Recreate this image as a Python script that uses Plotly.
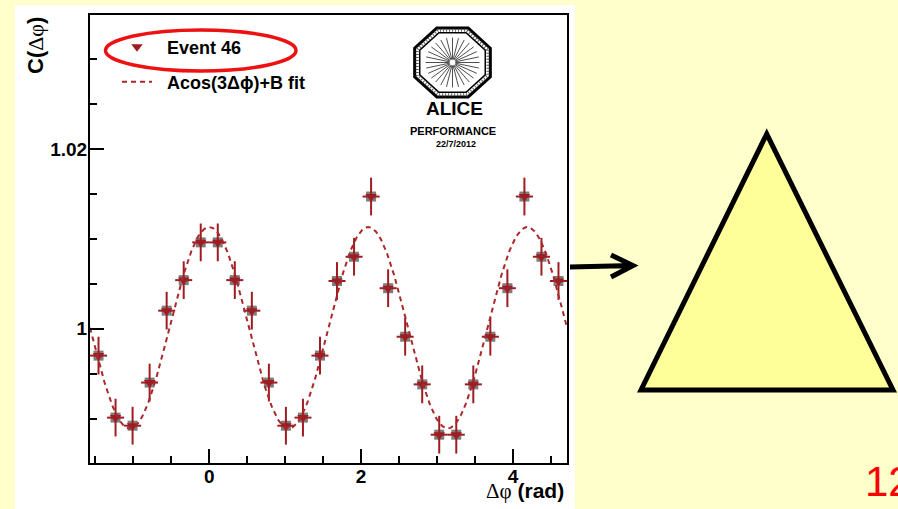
import numpy as np
import plotly.graph_objects as go

# ---------------- data ----------------
N_BINS = 28
X_MIN, X_MAX = -np.pi / 2, 3 * np.pi / 2
bin_width = (X_MAX - X_MIN) / N_BINS
dphi = X_MIN + (np.arange(N_BINS) + 0.5) * bin_width   # bin centres (rad)

c_dphi = [0.9970, 0.9901, 0.9892, 0.9940, 1.0020, 1.0054, 1.0096, 1.0096,
          1.0054, 1.0020, 0.9940, 0.9892, 0.9901, 0.9970, 1.0053, 1.0080,
          1.0147, 1.0045, 0.9991, 0.9938, 0.9882, 0.9882, 0.9938, 0.9991,
          1.0045, 1.0147, 1.0080, 1.0053]
c_err = [0.0021] * N_BINS

FIT_A = 0.0112
FIT_B = 1.0001

x_ticks = [0, 2, 4]
y_ticks = [1.0, 1.02]

# ---------------- geometry helpers (pixel -> paper) ----------------
W, H = 898, 509
PL, PR, PT, PB = 90, 567, 15, 463


def px(x):
    return (x - PL) / (PR - PL)


def py(y):
    return (PB - y) / (PB - PT)


RED = "rgb(158,28,34)"
SLIDE_BG = "#FFFFCC"
NB = "\u00a0"

fig = go.Figure()

# gray squares behind markers
fig.add_trace(go.Scatter(
    x=dphi, y=c_dphi, mode="markers",
    marker=dict(symbol="square", size=10, color="rgb(125,125,125)"),
    showlegend=False, hoverinfo="skip"))

# data points with error bars
fig.add_trace(go.Scatter(
    x=dphi, y=c_dphi, mode="markers", name=NB * 2 + "Event 46",
    marker=dict(symbol="triangle-down", size=10, color=RED),
    error_y=dict(type="data", array=c_err, color=RED, thickness=2, width=0),
    error_x=dict(type="constant", value=bin_width / 2, color=RED, thickness=2, width=0),
    legend="legend"))

# fit curve
xf = np.linspace(X_MIN, X_MAX, 500)
yf = FIT_A * np.cos(3 * xf) + FIT_B
fig.add_trace(go.Scatter(
    x=xf, y=yf, mode="lines", name=NB * 2 + "Acos(3Δϕ)+B fit",
    line=dict(color="rgb(170,40,40)", width=2, dash="5px,4px"),
    legend="legend2"))

shapes = []
# white picture background
shapes.append(dict(type="rect", xref="paper", yref="paper",
                   x0=px(15), x1=px(575), y0=py(5), y1=py(512),
                   fillcolor="white", line=dict(width=0), layer="below"))

# red ellipse around legend entry
shapes.append(dict(type="circle", xref="paper", yref="paper",
                   x0=px(105.5), x1=px(296), y0=py(30), y1=py(71),
                   line=dict(color="#EE1111", width=3.5)))

# arrow
shapes.append(dict(type="path", xref="paper", yref="paper",
                   path="M{},{} L{},{} M{},{} L{},{} L{},{}".format(
                       px(570), py(267), px(633), py(265.5),
                       px(611), py(255), px(633), py(265.5), px(611), py(277)),
                   line=dict(color="black", width=5)))

# triangle
shapes.append(dict(type="path", xref="paper", yref="paper",
                   path="M{},{} L{},{} L{},{} Z".format(
                       px(766.7), py(134), px(641), py(390), px(893), py(390)),
                   fillcolor="#FFFF99", line=dict(color="black", width=5)))

# ALICE logo (octagon + spokes)
cx, cy = 452.5, 62.5
ap_x, ap_y = 39.0, 35.5


def octagon(scale):
    pts = []
    for k in range(8):
        a = np.deg2rad(22.5 + 45 * k)
        r = 1 / np.cos(np.deg2rad(22.5))
        pts.append((cx + scale * ap_x * r * np.cos(a), cy - scale * ap_y * r * np.sin(a)))
    p = "M" + " L".join("{},{}".format(px(a), py(b)) for a, b in pts) + " Z"
    return p


shapes.append(dict(type="path", xref="paper", yref="paper", path=octagon(0.97),
                   line=dict(color="black", width=3)))
shapes.append(dict(type="path", xref="paper", yref="paper", path=octagon(0.84),
                   line=dict(color="black", width=1.5)))
shapes.append(dict(type="path", xref="paper", yref="paper", path=octagon(0.905),
                   line=dict(color="rgb(90,90,90)", width=3, dash="1px,2px")))
for k in range(28):
    a = 2 * np.pi * k / 28
    shapes.append(dict(type="line", xref="paper", yref="paper",
                       x0=px(cx + 3 * np.cos(a)), y0=py(cy - 3 * np.sin(a)),
                       x1=px(cx + 27 * np.cos(a)), y1=py(cy - 25 * np.sin(a)),
                       line=dict(color="rgb(80,80,80)", width=1)))

annotations = [
    dict(text="ALICE", x=px(454), y=py(108), xref="paper", yref="paper",
         xanchor="center", yanchor="middle",
         showarrow=False, font=dict(family="Liberation Sans", size=19, color="black", weight="bold")),
    dict(text="PERFORMANCE", x=px(453), y=py(130.5), xref="paper", yref="paper",
         xanchor="center", yanchor="middle",
         showarrow=False, font=dict(family="Liberation Sans", size=11, color="black", weight="bold")),
    dict(text="22/7/2012", x=px(456), y=py(144), xref="paper", yref="paper",
         xanchor="center", yanchor="middle",
         showarrow=False, font=dict(family="Liberation Sans", size=9, color="black", weight="bold")),
    # axis titles
    dict(text="<span style='font-family:Liberation Serif;font-weight:normal'>Δφ</span> (rad)",
         x=px(566), y=py(491), xref="paper", yref="paper", xanchor="right", yanchor="middle",
         showarrow=False, font=dict(family="Liberation Sans", size=21, color="black", weight="bold")),
    dict(text="C(<span style='font-family:Liberation Serif;font-weight:normal'>Δφ</span>)",
         x=px(35), y=py(46), xref="paper", yref="paper", xanchor="center", yanchor="middle",
         textangle=-90, showarrow=False,
         font=dict(family="Liberation Sans", size=22, color="black", weight="bold")),
    # slide number
    dict(text="12", x=px(863), y=py(481), xref="paper", yref="paper", xanchor="left",
         yanchor="middle", showarrow=False,
         font=dict(family="Liberation Sans", size=42, color="#FF0000")),
]

axis_font = dict(family="Liberation Sans", size=19, color="black", weight="bold")

fig.update_layout(
    width=W, height=H,
    margin=dict(l=PL, r=W - PR, t=PT, b=H - PB, pad=0),
    paper_bgcolor=SLIDE_BG, plot_bgcolor="white",
    shapes=shapes, annotations=annotations,
    xaxis=dict(range=[X_MIN, X_MAX], tickmode="array", tickvals=x_ticks,
               ticks="inside", ticklen=14, tickwidth=2, tickcolor="black",
               ticklabelstandoff=-5,
               showline=True, linecolor="black", linewidth=2, mirror=True,
               showgrid=False, zeroline=False, tickfont=axis_font,
               minor=dict(dtick=0.5, tick0=0, ticks="inside", ticklen=7, tickwidth=1.5,
                          tickcolor="black", showgrid=False)),
    yaxis=dict(range=[0.98505, 1.0349], tickmode="array", tickvals=y_ticks,
               ticktext=["1", "1.02"],
               ticks="inside", ticklen=14, tickwidth=2, tickcolor="black",
               ticklabelstandoff=-3,
               showline=True, linecolor="black", linewidth=2, mirror=True,
               showgrid=False, zeroline=False, tickfont=axis_font,
               minor=dict(dtick=0.005, tick0=1, ticks="inside", ticklen=7, tickwidth=1.5,
                          tickcolor="black", showgrid=False)),
    legend=dict(x=px(117), y=py(47), xanchor="left", yanchor="middle",
                bgcolor="rgba(0,0,0,0)", borderwidth=0,
                font=dict(family="Liberation Sans", size=18, color="black", weight="bold")),
    legend2=dict(x=px(117), y=py(82), xanchor="left", yanchor="middle",
                 bgcolor="rgba(0,0,0,0)", borderwidth=0,
                 font=dict(family="Liberation Sans", size=18, color="black", weight="bold")),
)

fig.write_html("out.html")
